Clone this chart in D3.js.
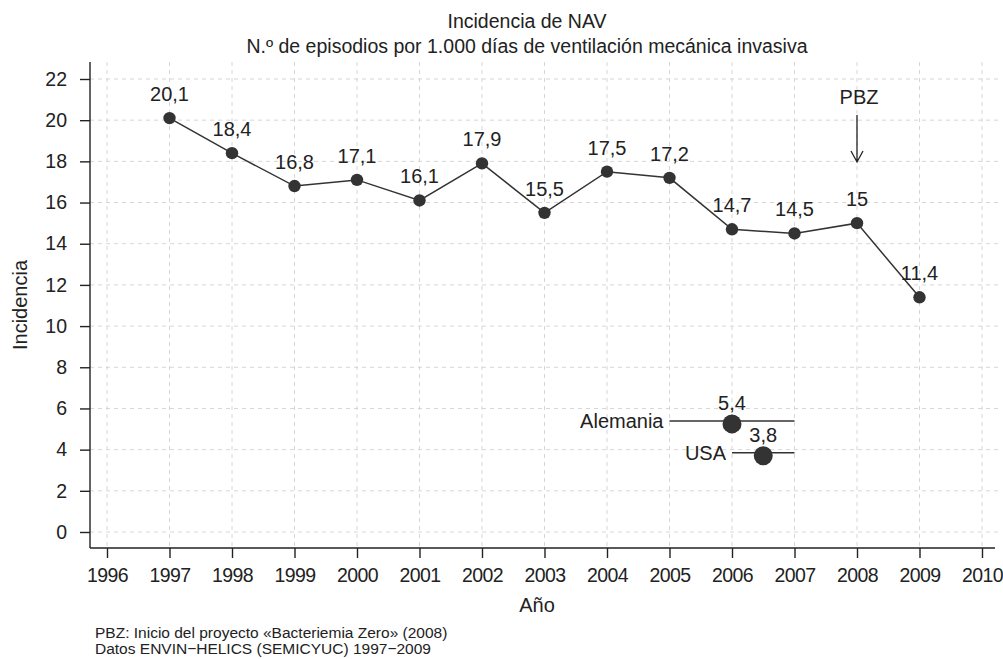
<!DOCTYPE html>
<html>
<head>
<meta charset="utf-8">
<script src="https://cdn.jsdelivr.net/npm/d3@7"></script>
<style>
  body { margin: 0; background: #fff; }
  text { font-family: "Liberation Sans", Arial, sans-serif; fill: #222; }
</style>
</head>
<body>
<svg width="1003" height="659"></svg>
<script>
// datos de la serie principal
var years = [1997, 1998, 1999, 2000, 2001, 2002, 2003, 2004, 2005, 2006, 2007, 2008, 2009];
var incidencia = [20.1, 18.4, 16.8, 17.1, 16.1, 17.9, 15.5, 17.5, 17.2, 14.7, 14.5, 15, 11.4];

// referencias internacionales
var refNames = ["Alemania", "USA"];
var refYear = [2006, 2006.5];
var refValue = [5.25, 3.7];
var refLabel = ["5,4", "3,8"];
var refFrom = [2005, 2006];
var refTo = [2007, 2007];

var xTicks = d3.range(1996, 2011);
var yTicks = d3.range(0, 23, 2);

var svg = d3.select("svg");

var xScale = d3.scaleLinear().domain([1996, 2010]).range([107, 982]);
var yScale = d3.scaleLinear().domain([0, 22]).range([532, 79]);

var fmt = function (v) { return String(v).replace(".", ","); };

// rejilla
svg.append("g")
  .selectAll("line")
  .data(yTicks)
  .enter()
  .append("line")
  .attr("x1", 90)
  .attr("x2", 1000)
  .attr("y1", function (d) { return yScale(d); })
  .attr("y2", function (d) { return yScale(d); })
  .attr("stroke", "#d6d6d6")
  .attr("stroke-dasharray", "4,4");

svg.append("g")
  .selectAll("line")
  .data(xTicks)
  .enter()
  .append("line")
  .attr("x1", function (d) { return xScale(d); })
  .attr("x2", function (d) { return xScale(d); })
  .attr("y1", 62)
  .attr("y2", 548)
  .attr("stroke", "#d6d6d6")
  .attr("stroke-dasharray", "4,4");

// ejes
var yAxis = svg.append("g")
  .attr("transform", "translate(90,0)")
  .call(d3.axisLeft(yScale).tickValues(yTicks).tickSize(10).tickPadding(13));
yAxis.select(".domain").attr("d", "M0,62V548");

var xAxis = svg.append("g")
  .attr("transform", "translate(0,548)")
  .call(d3.axisBottom(xScale).tickValues(xTicks).tickFormat(d3.format("d")).tickSize(10).tickPadding(10));
xAxis.select(".domain").attr("d", "M90,0H995");

svg.selectAll(".tick text").attr("font-size", 19.5).attr("fill", "#222")
  .style("font-family", "Liberation Sans, Arial, sans-serif");
xAxis.selectAll(".tick text").attr("letter-spacing", "-0.6px");
svg.selectAll(".tick line, .domain").attr("stroke", "#222").attr("stroke-width", 1.4);

// linea y puntos
var lineGenerator = d3.line()
  .x(function (d, i) { return xScale(years[i]); })
  .y(function (d) { return yScale(d); });

svg.append("path")
  .datum(incidencia)
  .attr("fill", "none")
  .attr("stroke", "#333")
  .attr("stroke-width", 1.5)
  .attr("d", lineGenerator);

svg.append("g")
  .selectAll("circle")
  .data(incidencia)
  .enter()
  .append("circle")
  .attr("cx", function (d, i) { return xScale(years[i]); })
  .attr("cy", function (d) { return yScale(d); })
  .attr("r", 6.2)
  .attr("fill", "#333");

svg.append("g")
  .selectAll("text")
  .data(incidencia)
  .enter()
  .append("text")
  .attr("x", function (d, i) { return xScale(years[i]); })
  .attr("y", function (d) { return yScale(d) - 17; })
  .attr("text-anchor", "middle")
  .attr("font-size", 20)
  .text(function (d) { return fmt(d); });

// Alemania / USA
refNames.forEach(function (name, i) {
  var y = yScale(refValue[i]);
  svg.append("line")
    .attr("x1", xScale(refFrom[i]))
    .attr("x2", xScale(refTo[i]))
    .attr("y1", y - 3).attr("y2", y - 3)
    .attr("stroke", "#333")
    .attr("stroke-width", 1.5);
  svg.append("circle")
    .attr("cx", xScale(refYear[i]))
    .attr("cy", y)
    .attr("r", 9.5)
    .attr("fill", "#333");
  svg.append("text")
    .attr("x", xScale(refYear[i]))
    .attr("y", y - 14)
    .attr("text-anchor", "middle")
    .attr("font-size", 20)
    .text(refLabel[i]);
  svg.append("text")
    .attr("x", xScale(refFrom[i]) - 6)
    .attr("y", y + 4)
    .attr("text-anchor", "end")
    .attr("font-size", 20)
    .text(name);
});

// flecha PBZ
var xp = xScale(2008);
svg.append("text")
  .attr("x", xp + 2)
  .attr("y", 104)
  .attr("text-anchor", "middle")
  .attr("font-size", 20)
  .text("PBZ");
svg.append("path")
  .attr("d", "M" + xp + ",115V162M" + (xp - 6) + ",151L" + xp + ",162L" + (xp + 6) + ",151")
  .attr("fill", "none")
  .attr("stroke", "#222")
  .attr("stroke-width", 1.3);

// titulos
svg.append("text")
  .attr("x", 527).attr("y", 28)
  .attr("text-anchor", "middle")
  .attr("font-size", 19.5)
  .text("Incidencia de NAV");
svg.append("text")
  .attr("x", 527).attr("y", 53)
  .attr("text-anchor", "middle")
  .attr("font-size", 19.5)
  .text("N.º de episodios por 1.000 días de ventilación mecánica invasiva");

svg.append("text")
  .attr("x", 537).attr("y", 612)
  .attr("text-anchor", "middle")
  .attr("font-size", 20)
  .text("Año");

svg.append("text")
  .attr("transform", "translate(27,305) rotate(-90)")
  .attr("text-anchor", "middle")
  .attr("font-size", 20)
  .text("Incidencia");

svg.append("text")
  .attr("x", 95).attr("y", 638)
  .attr("font-size", 15.5)
  .text("PBZ: Inicio del proyecto «Bacteriemia Zero» (2008)");
svg.append("text")
  .attr("x", 95).attr("y", 654)
  .attr("font-size", 15.5)
  .text("Datos ENVIN\u2212HELICS (SEMICYUC) 1997\u22122009");
</script>
</body>
</html>
